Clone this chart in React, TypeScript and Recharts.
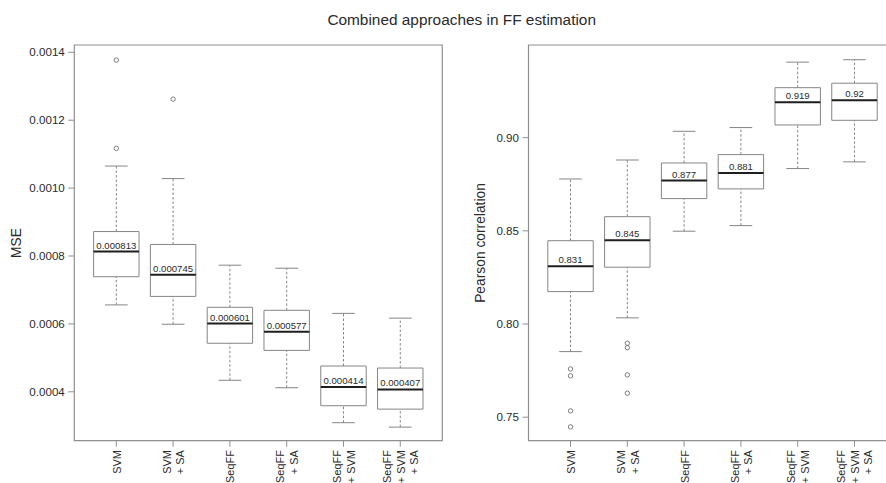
import React from 'react';
import { ComposedChart, XAxis, YAxis, ReferenceArea, ReferenceLine, Scatter } from 'recharts';

// ---------- data ----------
const categories = ['SVM', 'SVM\n+ SA', 'SeqFF', 'SeqFF\n+ SA', 'SeqFF\n+ SVM', 'SeqFF\n+ SVM\n+ SA'];
const positions = [1, 2, 3, 4, 5, 6];
const xDomain = [0.26, 6.74];

// MSE panel
const mseLow = [0.000656, 0.000599, 0.000434, 0.000412, 0.000309, 0.000296];
const mseQ1 = [0.000739, 0.000681, 0.000543, 0.000522, 0.000359, 0.000349];
const mseMedian = [0.000813, 0.000745, 0.000601, 0.000577, 0.000414, 0.000407];
const mseQ3 = [0.000872, 0.000834, 0.000649, 0.00064, 0.000476, 0.00047];
const mseHigh = [0.001065, 0.001028, 0.000773, 0.000764, 0.000631, 0.000617];
const mseOutliers = [[0.001377, 0.001117], [0.001262], [], [], [], []];
const mseTicks = [0.0004, 0.0006, 0.0008, 0.001, 0.0012, 0.0014];
const mseDomain = [0.000256, 0.0014215];

// Pearson panel
const corLow = [0.7852, 0.8033, 0.8498, 0.8528, 0.8834, 0.887];
const corQ1 = [0.8174, 0.8305, 0.8673, 0.8725, 0.9068, 0.9093];
const corMedian = [0.831, 0.845, 0.877, 0.881, 0.919, 0.92];
const corQ3 = [0.8447, 0.8576, 0.8864, 0.8909, 0.9268, 0.9292];
const corHigh = [0.8778, 0.888, 0.9034, 0.9054, 0.9405, 0.9418];
const corOutliers = [[0.7759, 0.7722, 0.7534, 0.7448], [0.7897, 0.7873, 0.7727, 0.7629], [], [], [], []];
const corTicks = [0.75, 0.8, 0.85, 0.9];
const corDomain = [0.7374, 0.9497];

// ---------- styles ----------
const FONT = '"Liberation Sans", Arial, Helvetica, sans-serif';
const FRAME = '#8f8f8f';
const BOX = '#858585';
const MED = '#1e1e1e';
const TXT = '#2b2b2b';

const XTick = (props: any) => {
  const { x, y, payload } = props;
  const idx = positions.indexOf(payload.value);
  const lines = (categories[idx] || '').split('\n');
  const n = lines.length;
  return (
    <g>
      {lines.map((l, i) => {
        const cx = x + 0.5 + (i - (n - 1) / 2) * 13.5;
        return (
          <text
            key={i}
            x={cx}
            y={y}
            transform={`rotate(-90, ${cx}, ${y})`}
            textAnchor="end"
            dominantBaseline="central"
            fontSize={10.9}
            fontFamily={FONT}
            fill={TXT}
          >
            {l}
          </text>
        );
      })}
    </g>
  );
};

type PanelProps = {
  width: number;
  height: number;
  yAxisWidth: number;
  rightMargin: number;
  low: number[];
  q1: number[];
  median: number[];
  q3: number[];
  high: number[];
  outliers: number[][];
  ticks: number[];
  domain: number[];
  tickFmt: (v: number) => string;
  medFmt: (v: number) => string;
};

const Panel = (p: PanelProps) => {
  const outlierData: { x: number; y: number }[] = [];
  p.outliers.forEach((arr, i) => arr.forEach((v) => outlierData.push({ x: positions[i], y: v })));
  return (
    <ComposedChart
      width={p.width}
      height={p.height}
      margin={{ top: 45, right: p.rightMargin, bottom: 0, left: 0 }}
    >
      <XAxis
        type="number"
        dataKey="x"
        domain={xDomain}
        allowDataOverflow
        ticks={positions}
        interval={0}
        axisLine={false}
        tickLine={{ stroke: FRAME }}
        tickSize={6}
        tickMargin={3.5}
        height={42.3}
        tick={<XTick />}
      />
      <YAxis
        type="number"
        dataKey="y"
        domain={p.domain}
        allowDataOverflow
        ticks={p.ticks}
        interval={0}
        width={p.yAxisWidth}
        axisLine={false}
        tickLine={{ stroke: FRAME }}
        tickSize={6}
        tickMargin={3.5}
        tickFormatter={p.tickFmt}
        tick={{ fontSize: 11.6, fontFamily: FONT, fill: TXT }}
      />
      <ReferenceArea
        x1={xDomain[0]}
        x2={xDomain[1]}
        y1={p.domain[0]}
        y2={p.domain[1]}
        fill="none"
        stroke={FRAME}
        strokeWidth={1.2}
        ifOverflow="visible"
      />
      {positions.map((pos, i) => (
        <ReferenceLine
          key={`wl${i}`}
          segment={[{ x: pos, y: p.low[i] }, { x: pos, y: p.q1[i] }]}
          stroke={BOX}
          strokeDasharray="2.5 2"
          ifOverflow="visible"
        />
      ))}
      {positions.map((pos, i) => (
        <ReferenceLine
          key={`wh${i}`}
          segment={[{ x: pos, y: p.q3[i] }, { x: pos, y: p.high[i] }]}
          stroke={BOX}
          strokeDasharray="2.5 2"
          ifOverflow="visible"
        />
      ))}
      {positions.map((pos, i) => (
        <ReferenceLine
          key={`cl${i}`}
          segment={[{ x: pos - 0.2, y: p.low[i] }, { x: pos + 0.2, y: p.low[i] }]}
          stroke={BOX}
          ifOverflow="visible"
        />
      ))}
      {positions.map((pos, i) => (
        <ReferenceLine
          key={`ch${i}`}
          segment={[{ x: pos - 0.2, y: p.high[i] }, { x: pos + 0.2, y: p.high[i] }]}
          stroke={BOX}
          ifOverflow="visible"
        />
      ))}
      {positions.map((pos, i) => (
        <ReferenceArea
          key={`b${i}`}
          x1={pos - 0.4}
          x2={pos + 0.4}
          y1={p.q1[i]}
          y2={p.q3[i]}
          fill="#ffffff"
          fillOpacity={1}
          stroke={BOX}
          strokeWidth={1}
          ifOverflow="visible"
        />
      ))}
      {positions.map((pos, i) => (
        <ReferenceLine
          key={`m${i}`}
          segment={[{ x: pos - 0.4, y: p.median[i] }, { x: pos + 0.4, y: p.median[i] }]}
          stroke={MED}
          strokeWidth={2}
          ifOverflow="visible"
          label={{
            value: p.medFmt(p.median[i]),
            position: 'top',
            offset: 3,
            fontSize: 9.6,
            fontFamily: FONT,
            fill: TXT,
          }}
        />
      ))}
      <Scatter
        data={outlierData}
        dataKey="y"
        isAnimationActive={false}
        shape={(sp: any) => (
          <circle cx={sp.cx} cy={sp.cy} r={2.2} fill="none" stroke="#6f6f6f" strokeWidth={0.9} />
        )}
      />
    </ComposedChart>
  );
};

export default function App() {
  return (
    <div
      style={{
        position: 'absolute',
        left: 0,
        top: 0,
        width: 886,
        height: 483,
        overflow: 'hidden',
        background: '#fff',
      }}
    >
      <div style={{ position: 'absolute', left: 0, top: 0 }}>
        <Panel
          width={450}
          height={483}
          yAxisWidth={74.3}
          rightMargin={7.7}
          low={mseLow}
          q1={mseQ1}
          median={mseMedian}
          q3={mseQ3}
          high={mseHigh}
          outliers={mseOutliers}
          ticks={mseTicks}
          domain={mseDomain}
          tickFmt={(v) => v.toFixed(4)}
          medFmt={(v) => v.toFixed(6)}
        />
      </div>
      <div style={{ position: 'absolute', left: 460, top: 0 }}>
        <Panel
          width={436.5}
          height={483}
          yAxisWidth={68.5}
          rightMargin={0}
          low={corLow}
          q1={corQ1}
          median={corMedian}
          q3={corQ3}
          high={corHigh}
          outliers={corOutliers}
          ticks={corTicks}
          domain={corDomain}
          tickFmt={(v) => v.toFixed(2)}
          medFmt={(v) => String(+v.toFixed(3))}
        />
      </div>
      <svg
        width={886}
        height={483}
        style={{ position: 'absolute', left: 0, top: 0, pointerEvents: 'none' }}
      >
        <text x={461.7} y={25} textAnchor="middle" fontSize={15.4} fontFamily={FONT} fill={TXT}>
          Combined approaches in FF estimation
        </text>
        <text
          x={16}
          y={243}
          transform="rotate(-90, 16, 243)"
          textAnchor="middle"
          dominantBaseline="central"
          fontSize={13.8}
          fontFamily={FONT}
          fill={TXT}
        >
          MSE
        </text>
        <text
          x={480}
          y={243}
          transform="rotate(-90, 480, 243)"
          textAnchor="middle"
          dominantBaseline="central"
          fontSize={13.8}
          fontFamily={FONT}
          fill={TXT}
        >
          Pearson correlation
        </text>
      </svg>
    </div>
  );
}
